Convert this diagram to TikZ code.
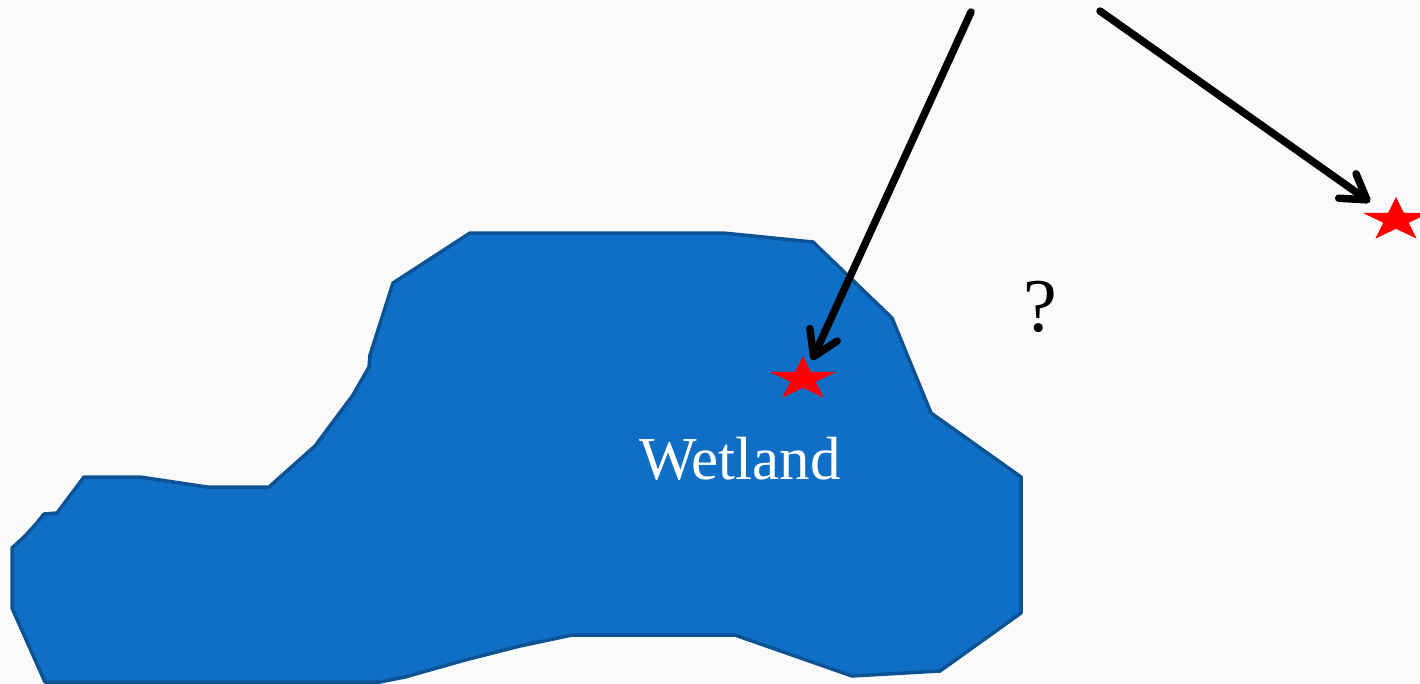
\documentclass[tikz,border=0pt]{standalone}
\usepackage{fontspec}
\setmainfont{Liberation Serif}
\usetikzlibrary{arrows.meta}
\definecolor{bg}{HTML}{FAFAFA}
\definecolor{wetfill}{HTML}{0F6FC6}
\definecolor{wetedge}{HTML}{0B5394}
\begin{document}
\begin{tikzpicture}[x=1pt,y=-1pt,
  pointer/.style={line width=7.5pt, line cap=round,
    -{Straight Barb[length=24pt,width=30pt,line width=7.5pt,line cap=round,line join=round]}},
  wetland/.style={fill=wetfill, draw=wetedge, line width=3.5pt, line join=round},
  label/.style={inner sep=0pt, anchor=base},
  redstar/.pic={\fill[red,xscale=35,yscale=23]
     (-90:1) -- (-54:0.382) -- (-18:1) -- (18:0.382) -- (54:1) -- (90:0.382)
     -- (126:1) -- (162:0.382) -- (198:1) -- (234:0.382) -- cycle;}]
\fill[bg] (0,0) rectangle (1420,683);
\useasboundingbox (0,0) rectangle (1420,683);
% wetland outline
\draw[wetland] (12,548) -- (24,537) -- (36,524) -- (44,514) -- (57,513) -- (84,477)
  -- (140,477) -- (207,487) -- (269,487) -- (315,446) -- (353,395) -- (369,367)
  -- (370,355) -- (393,283) -- (470,233) -- (723,233) -- (813,242) -- (892,318)
  -- (931,413) -- (1021,477) -- (1021,613) -- (940,671) -- (852,676) -- (735,635)
  -- (572,635) -- (520,646) -- (465,660) -- (405,677) -- (380,682) -- (45,682)
  -- (12,608) -- cycle;
% stars
\coordinate (star1) at (803,379);
\coordinate (star2) at (1396,220);
\pic at (star1) {redstar};
\pic at (star2) {redstar};
% labels
\node[label, text=white, font=\fontsize{61}{72}\selectfont] (wettext) at (740,479) {Wetland};
\node[label, font=\fontsize{76}{90}\selectfont] (question) at (1040,331) {?};
% arrows
\coordinate (src1) at (971,12);
\coordinate (tip1) at (812,360);
\coordinate (src2) at (1100,11);
\coordinate (tip2) at (1370,202);
\draw[pointer] (src1) -- (tip1);
\draw[pointer] (src2) -- (tip2);
\end{tikzpicture}
\end{document}
